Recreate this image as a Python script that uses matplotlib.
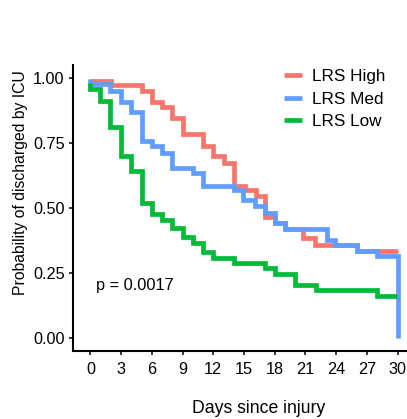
import numpy as np
import matplotlib
matplotlib.use("Agg")
import matplotlib.pyplot as plt

plt.rcParams['font.family'] = ['Liberation Sans', 'DejaVu Sans']

# step curves: time of each step and value after it
high_t = [0, 2.0, 5.0, 6.0, 7.0, 8.0, 9.0, 11.0, 12.0, 13.0, 14.0, 15.1, 16.2,
          17.0, 18.0, 19.0, 20.8, 21.9, 26.0, 30.0]
high_s = [0.99, 0.973, 0.951, 0.909, 0.887, 0.848, 0.784, 0.737, 0.700, 0.675,
          0.587, 0.569, 0.546, 0.466, 0.444, 0.418, 0.386, 0.360, 0.334, 0.334]

med_t = [0, 0, 1.9, 3.0, 4.0, 5.0, 6.0, 7.0, 8.0, 10.0, 11.0, 14.0, 14.9, 16.1,
         17.0, 18.0, 19.0, 23.1, 23.9, 26.0, 28.0, 30.0]
med_s = [0.995, 0.977, 0.951, 0.906, 0.868, 0.758, 0.737, 0.713, 0.656, 0.636,
         0.587, 0.569, 0.530, 0.508, 0.482, 0.444, 0.418, 0.379, 0.360, 0.334,
         0.315, 0.0]

low_t = [0, 0, 0.9, 1.9, 3.0, 4.0, 5.0, 6.0, 7.0, 8.0, 9.0, 10.0, 11.0, 12.0,
         14.0, 17.0, 18.0, 20.0, 22.0, 28.0, 29.9]
low_s = [0.98, 0.957, 0.912, 0.810, 0.700, 0.643, 0.520, 0.476, 0.454, 0.424,
         0.390, 0.365, 0.330, 0.309, 0.289, 0.270, 0.248, 0.206, 0.186, 0.164,
         0.164]

labels = ["LRS High", "LRS Med", "LRS Low"]
colors = ["#F8766D", "#619CFF", "#00BA38"]
xticks = [0, 3, 6, 9, 12, 15, 18, 21, 24, 27, 30]
yticks = [0.0, 0.25, 0.5, 0.75, 1.0]
pval = "p = 0.0017"

fig = plt.figure(figsize=(4.07, 4.19), dpi=100)
# panel runs past the right edge, like the cropped original
ax = fig.add_axes([73 / 407, 67.7 / 419, 340 / 407, 286.3 / 419])

curves = [(high_t, high_s), (med_t, med_s), (low_t, low_s)]
for (t, s), lab, c in zip(curves, labels, colors):
    ax.step(t, s, where='post', color=c, lw=3.4, label=lab,
            solid_capstyle='butt', solid_joinstyle='miter')

ax.set_xlim(-1.7, 31.5)
ax.set_ylim(-0.05, 1.05)
ax.set_xticks(xticks)
ax.set_yticks(yticks)
ax.set_yticklabels(["%.2f" % v for v in yticks])

for side in ['top', 'right']:
    ax.spines[side].set_visible(False)
for side in ['left', 'bottom']:
    ax.spines[side].set_linewidth(1.5)
ax.tick_params(length=3, width=1.1, labelsize=11.7, colors='black')
ax.tick_params(axis='y', pad=3)
ax.tick_params(axis='x', pad=5)

fig.text(21 / 407, 1 - 182.5 / 419, "Probability of discharged by ICU",
         fontsize=11.3, rotation=90, ha='center', va='center')
fig.text(258.3 / 407, (419 - 413) / 419, "Days since injury", fontsize=12.7,
         ha='center', va='baseline')

ax.text(0.59, 0.203, pval, fontsize=11.8, ha='left', va='center')

ax.legend(loc='upper left', bbox_to_anchor=(284 / 407, 1 - 69 / 419),
          bbox_transform=fig.transFigure, frameon=False, fontsize=12.3,
          handlelength=1.05, handletextpad=0.6, labelspacing=0.45,
          borderaxespad=0, borderpad=0)

fig.savefig("out.png", dpi=100)
